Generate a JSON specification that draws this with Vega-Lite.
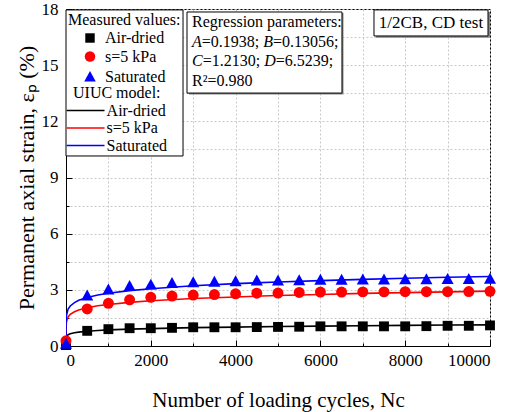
{
  "$schema": "https://vega.github.io/schema/vega-lite/v6.json",
  "autosize": {"type": "none"},
  "padding": {"left": 66, "top": 9, "right": 22, "bottom": 66},
  "width": 424,
  "height": 337,
  "background": "white",
  "datasets": {
    "measured": [
      {"N": 0, "series": "Air-dried", "e": 0.05},
      {"N": 500, "series": "Air-dried", "e": 0.81},
      {"N": 1000, "series": "Air-dried", "e": 0.9},
      {"N": 1500, "series": "Air-dried", "e": 0.95},
      {"N": 2000, "series": "Air-dried", "e": 0.95},
      {"N": 2500, "series": "Air-dried", "e": 0.97},
      {"N": 3000, "series": "Air-dried", "e": 1.0},
      {"N": 3500, "series": "Air-dried", "e": 1.0},
      {"N": 4000, "series": "Air-dried", "e": 1.0},
      {"N": 4500, "series": "Air-dried", "e": 1.01},
      {"N": 5000, "series": "Air-dried", "e": 1.02},
      {"N": 5500, "series": "Air-dried", "e": 1.03},
      {"N": 6000, "series": "Air-dried", "e": 1.05},
      {"N": 6500, "series": "Air-dried", "e": 1.05},
      {"N": 7000, "series": "Air-dried", "e": 1.05},
      {"N": 7500, "series": "Air-dried", "e": 1.05},
      {"N": 8000, "series": "Air-dried", "e": 1.05},
      {"N": 8500, "series": "Air-dried", "e": 1.06},
      {"N": 9000, "series": "Air-dried", "e": 1.08},
      {"N": 9500, "series": "Air-dried", "e": 1.08},
      {"N": 10000, "series": "Air-dried", "e": 1.1},
      {"N": 0, "series": "s=5 kPa", "e": 0.28},
      {"N": 500, "series": "s=5 kPa", "e": 1.98},
      {"N": 1000, "series": "s=5 kPa", "e": 2.28},
      {"N": 1500, "series": "s=5 kPa", "e": 2.47},
      {"N": 2000, "series": "s=5 kPa", "e": 2.6},
      {"N": 2500, "series": "s=5 kPa", "e": 2.67},
      {"N": 3000, "series": "s=5 kPa", "e": 2.72},
      {"N": 3500, "series": "s=5 kPa", "e": 2.75},
      {"N": 4000, "series": "s=5 kPa", "e": 2.79},
      {"N": 4500, "series": "s=5 kPa", "e": 2.82},
      {"N": 5000, "series": "s=5 kPa", "e": 2.83},
      {"N": 5500, "series": "s=5 kPa", "e": 2.86},
      {"N": 6000, "series": "s=5 kPa", "e": 2.88},
      {"N": 6500, "series": "s=5 kPa", "e": 2.88},
      {"N": 7000, "series": "s=5 kPa", "e": 2.89},
      {"N": 7500, "series": "s=5 kPa", "e": 2.89},
      {"N": 8000, "series": "s=5 kPa", "e": 2.9},
      {"N": 8500, "series": "s=5 kPa", "e": 2.9},
      {"N": 9000, "series": "s=5 kPa", "e": 2.9},
      {"N": 9500, "series": "s=5 kPa", "e": 2.91},
      {"N": 10000, "series": "s=5 kPa", "e": 2.92},
      {"N": 0, "series": "Saturated", "e": 0.1},
      {"N": 500, "series": "Saturated", "e": 2.68},
      {"N": 1000, "series": "Saturated", "e": 3.0},
      {"N": 1500, "series": "Saturated", "e": 3.19},
      {"N": 2000, "series": "Saturated", "e": 3.26},
      {"N": 2500, "series": "Saturated", "e": 3.35},
      {"N": 3000, "series": "Saturated", "e": 3.39},
      {"N": 3500, "series": "Saturated", "e": 3.42},
      {"N": 4000, "series": "Saturated", "e": 3.44},
      {"N": 4500, "series": "Saturated", "e": 3.48},
      {"N": 5000, "series": "Saturated", "e": 3.48},
      {"N": 5500, "series": "Saturated", "e": 3.5},
      {"N": 6000, "series": "Saturated", "e": 3.52},
      {"N": 6500, "series": "Saturated", "e": 3.52},
      {"N": 7000, "series": "Saturated", "e": 3.53},
      {"N": 7500, "series": "Saturated", "e": 3.54},
      {"N": 8000, "series": "Saturated", "e": 3.55},
      {"N": 8500, "series": "Saturated", "e": 3.55},
      {"N": 9000, "series": "Saturated", "e": 3.56},
      {"N": 9500, "series": "Saturated", "e": 3.56},
      {"N": 10000, "series": "Saturated", "e": 3.58}
    ],
    "model": [
      {"N": 0, "model": "Air-dried", "e": 0},
      {"N": 1, "model": "Air-dried", "e": 0.37},
      {"N": 10, "model": "Air-dried", "e": 0.49},
      {"N": 50, "model": "Air-dried", "e": 0.6},
      {"N": 100, "model": "Air-dried", "e": 0.65},
      {"N": 200, "model": "Air-dried", "e": 0.71},
      {"N": 300, "model": "Air-dried", "e": 0.74},
      {"N": 500, "model": "Air-dried", "e": 0.79},
      {"N": 750, "model": "Air-dried", "e": 0.83},
      {"N": 1000, "model": "Air-dried", "e": 0.86},
      {"N": 1500, "model": "Air-dried", "e": 0.9},
      {"N": 2000, "model": "Air-dried", "e": 0.93},
      {"N": 3000, "model": "Air-dried", "e": 0.98},
      {"N": 4000, "model": "Air-dried", "e": 1.01},
      {"N": 5000, "model": "Air-dried", "e": 1.04},
      {"N": 6000, "model": "Air-dried", "e": 1.06},
      {"N": 7000, "model": "Air-dried", "e": 1.08},
      {"N": 8000, "model": "Air-dried", "e": 1.1},
      {"N": 9000, "model": "Air-dried", "e": 1.12},
      {"N": 10000, "model": "Air-dried", "e": 1.13},
      {"N": 0, "model": "s=5 kPa", "e": 0},
      {"N": 1, "model": "s=5 kPa", "e": 0.97},
      {"N": 10, "model": "s=5 kPa", "e": 1.28},
      {"N": 50, "model": "s=5 kPa", "e": 1.55},
      {"N": 100, "model": "s=5 kPa", "e": 1.69},
      {"N": 200, "model": "s=5 kPa", "e": 1.83},
      {"N": 300, "model": "s=5 kPa", "e": 1.92},
      {"N": 500, "model": "s=5 kPa", "e": 2.04},
      {"N": 750, "model": "s=5 kPa", "e": 2.15},
      {"N": 1000, "model": "s=5 kPa", "e": 2.22},
      {"N": 1500, "model": "s=5 kPa", "e": 2.33},
      {"N": 2000, "model": "s=5 kPa", "e": 2.42},
      {"N": 3000, "model": "s=5 kPa", "e": 2.54},
      {"N": 4000, "model": "s=5 kPa", "e": 2.62},
      {"N": 5000, "model": "s=5 kPa", "e": 2.7},
      {"N": 6000, "model": "s=5 kPa", "e": 2.75},
      {"N": 7000, "model": "s=5 kPa", "e": 2.81},
      {"N": 8000, "model": "s=5 kPa", "e": 2.85},
      {"N": 9000, "model": "s=5 kPa", "e": 2.89},
      {"N": 10000, "model": "s=5 kPa", "e": 2.93},
      {"N": 0, "model": "Saturated", "e": 0},
      {"N": 1, "model": "Saturated", "e": 1.23},
      {"N": 10, "model": "Saturated", "e": 1.62},
      {"N": 50, "model": "Saturated", "e": 1.97},
      {"N": 100, "model": "Saturated", "e": 2.14},
      {"N": 200, "model": "Saturated", "e": 2.32},
      {"N": 300, "model": "Saturated", "e": 2.44},
      {"N": 500, "model": "Saturated", "e": 2.59},
      {"N": 750, "model": "Saturated", "e": 2.72},
      {"N": 1000, "model": "Saturated", "e": 2.82},
      {"N": 1500, "model": "Saturated", "e": 2.96},
      {"N": 2000, "model": "Saturated", "e": 3.06},
      {"N": 3000, "model": "Saturated", "e": 3.22},
      {"N": 4000, "model": "Saturated", "e": 3.33},
      {"N": 5000, "model": "Saturated", "e": 3.42},
      {"N": 6000, "model": "Saturated", "e": 3.49},
      {"N": 7000, "model": "Saturated", "e": 3.56},
      {"N": 8000, "model": "Saturated", "e": 3.62},
      {"N": 9000, "model": "Saturated", "e": 3.67},
      {"N": 10000, "model": "Saturated", "e": 3.71}
    ],
    "one": [{}]
  },
  "encoding": {
    "x": {
      "type": "quantitative",
      "scale": {"domain": [0, 10000], "nice": false, "zero": false},
      "axis": {
        "title": "Number of loading cycles, Nc",
        "values": [0, 1000, 2000, 3000, 4000, 5000, 6000, 7000, 8000, 9000, 10000],
        "format": "d",
        "labelExpr": "datum.value % 2000 === 0 ? datum.label : ''",
        "tickSize": {"condition": {"test": "datum.value % 2000 === 0", "value": -6}, "value": -3},
        "labelPadding": 12,
        "titlePadding": 21
      }
    },
    "y": {
      "type": "quantitative",
      "scale": {"domain": [0, 18], "nice": false, "zero": false},
      "axis": {
        "title": "Permanent axial strain, εₚ (%)",
        "values": [0, 1.5, 3, 4.5, 6, 7.5, 9, 10.5, 12, 13.5, 15, 16.5, 18],
        "labelExpr": "datum.value % 3 === 0 ? datum.label : ''",
        "tickSize": {"condition": {"test": "datum.value % 3 === 0", "value": -6}, "value": -3},
        "labelPadding": 14,
        "titlePadding": 3,
        "titleFontSize": 22
      }
    }
  },
  "layer": [
    {
      "data": {"name": "model"},
      "mark": {"type": "line", "strokeWidth": 1.6, "clip": true},
      "encoding": {
        "x": {"field": "N", "type": "quantitative"},
        "y": {"field": "e", "type": "quantitative"},
        "stroke": {
          "field": "model",
          "type": "nominal",
          "sort": ["Air-dried", "s=5 kPa", "Saturated"],
          "scale": {"range": ["#000000", "#ff0000", "#0000ff"]},
          "legend": {
            "title": "UIUC model:",
            "orient": "none",
            "legendX": 0,
            "legendY": 68.5,
            "symbolType": "M-3.5,0H3.5",
            "symbolSize": 117,
            "symbolStrokeWidth": 1.6,
            "symbolOffset": 4.6,
            "labelOffset": 13,
            "padding": 7
          }
        }
      }
    },
    {
      "data": {"name": "measured"},
      "mark": {"type": "point", "filled": true, "size": 120, "opacity": 1, "strokeWidth": 0},
      "encoding": {
        "x": {"field": "N", "type": "quantitative"},
        "y": {"field": "e", "type": "quantitative"},
        "fill": {
          "field": "series",
          "type": "nominal",
          "scale": {"domain": ["Air-dried", "s=5 kPa", "Saturated"], "range": ["#000000", "#ff0000", "#0000ff"]},
          "legend": {
            "title": "Measured values:",
            "orient": "none",
            "legendX": 0,
            "legendY": 1,
            "symbolSize": 110,
            "symbolOffset": 14,
            "labelOffset": 7,
            "padding": 2
          }
        },
        "shape": {
          "field": "series",
          "type": "nominal",
          "scale": {"domain": ["Air-dried", "s=5 kPa", "Saturated"], "range": ["M-0.9,-0.9H0.9V0.9H-0.9Z", "circle", "M0,-1.15L1.1,0.85L-1.1,0.85Z"]},
          "legend": {
            "title": "Measured values:",
            "orient": "none",
            "legendX": 0,
            "legendY": 1
          }
        }
      }
    },
    {
      "data": {"name": "one"},
      "mark": {"type": "rect", "fill": "white", "stroke": "black", "strokeWidth": 1},
      "encoding": {
        "x": {"datum": 0},
        "x2": {"datum": 2760},
        "y": {"datum": 17.95},
        "y2": {"datum": 10.15}
      }
    },
    {
      "data": {"name": "one"},
      "mark": {"type": "rect", "fill": "#888888"},
      "encoding": {
        "x": {"datum": 2900},
        "x2": {"datum": 6545},
        "y": {"datum": 17.78},
        "y2": {"datum": 13.43}
      }
    },
    {
      "data": {"name": "one"},
      "mark": {"type": "rect", "fill": "white", "stroke": "black", "strokeWidth": 1},
      "encoding": {
        "x": {"datum": 2854},
        "x2": {"datum": 6509},
        "y": {"datum": 17.84},
        "y2": {"datum": 13.51}
      }
    },
    {
      "data": {"name": "one"},
      "mark": {"type": "text", "text": "Regression parameters:", "font": "Liberation Serif", "fontSize": 16, "align": "left", "baseline": "top", "color": "black"},
      "encoding": {"x": {"datum": 2972}, "y": {"datum": 17.733}}
    },
    {
      "data": {"name": "one"},
      "mark": {"type": "text", "text": "A", "font": "Liberation Serif", "fontStyle": "italic", "fontSize": 16, "align": "left", "baseline": "top", "color": "black"},
      "encoding": {"x": {"datum": 2972}, "y": {"datum": 16.691}}
    },
    {
      "data": {"name": "one"},
      "mark": {"type": "text", "text": "=0.1938;", "font": "Liberation Serif", "fontSize": 16, "align": "left", "baseline": "top", "color": "black"},
      "encoding": {"x": {"datum": 3203}, "y": {"datum": 16.691}}
    },
    {
      "data": {"name": "one"},
      "mark": {"type": "text", "text": "B", "font": "Liberation Serif", "fontStyle": "italic", "fontSize": 16, "align": "left", "baseline": "top", "color": "black"},
      "encoding": {"x": {"datum": 4653}, "y": {"datum": 16.691}}
    },
    {
      "data": {"name": "one"},
      "mark": {"type": "text", "text": "=0.13056;", "font": "Liberation Serif", "fontSize": 16, "align": "left", "baseline": "top", "color": "black"},
      "encoding": {"x": {"datum": 4884}, "y": {"datum": 16.691}}
    },
    {
      "data": {"name": "one"},
      "mark": {"type": "text", "text": "C", "font": "Liberation Serif", "fontStyle": "italic", "fontSize": 16, "align": "left", "baseline": "top", "color": "black"},
      "encoding": {"x": {"datum": 2972}, "y": {"datum": 15.65}}
    },
    {
      "data": {"name": "one"},
      "mark": {"type": "text", "text": "=1.2130;", "font": "Liberation Serif", "fontSize": 16, "align": "left", "baseline": "top", "color": "black"},
      "encoding": {"x": {"datum": 3224}, "y": {"datum": 15.65}}
    },
    {
      "data": {"name": "one"},
      "mark": {"type": "text", "text": "D", "font": "Liberation Serif", "fontStyle": "italic", "fontSize": 16, "align": "left", "baseline": "top", "color": "black"},
      "encoding": {"x": {"datum": 4675}, "y": {"datum": 15.65}}
    },
    {
      "data": {"name": "one"},
      "mark": {"type": "text", "text": "=6.5239;", "font": "Liberation Serif", "fontSize": 16, "align": "left", "baseline": "top", "color": "black"},
      "encoding": {"x": {"datum": 4946}, "y": {"datum": 15.65}}
    },
    {
      "data": {"name": "one"},
      "mark": {"type": "text", "text": "R²=0.980", "font": "Liberation Serif", "fontSize": 16, "align": "left", "baseline": "top", "color": "black"},
      "encoding": {"x": {"datum": 2972}, "y": {"datum": 14.608}}
    },
    {
      "data": {"name": "one"},
      "mark": {"type": "rect", "fill": "#888888"},
      "encoding": {
        "x": {"datum": 7310},
        "x2": {"datum": 10000},
        "y": {"datum": 17.85},
        "y2": {"datum": 16.47}
      }
    },
    {
      "data": {"name": "one"},
      "mark": {"type": "rect", "fill": "white", "stroke": "black", "strokeWidth": 1},
      "encoding": {
        "x": {"datum": 7264},
        "x2": {"datum": 9953},
        "y": {"datum": 17.95},
        "y2": {"datum": 16.56}
      }
    },
    {
      "data": {"name": "one"},
      "mark": {"type": "text", "text": "1/2CB, CD test", "font": "Liberation Serif", "fontSize": 17, "align": "center", "baseline": "middle", "color": "black"},
      "encoding": {"x": {"datum": 8608}, "y": {"datum": 17.25}}
    }
  ],
  "config": {
    "view": {"stroke": "black", "strokeWidth": 1},
    "axis": {
      "labelFont": "Liberation Serif",
      "labelFontSize": 17,
      "labelColor": "black",
      "titleFont": "Liberation Serif",
      "titleFontSize": 21,
      "titleFontWeight": "normal",
      "titleColor": "black",
      "domainColor": "black",
      "tickColor": "black",
      "gridColor": "#c8c8c8",
      "gridDash": [2, 2],
      "grid": true
    },
    "legend": {
      "titleFont": "Liberation Serif",
      "titleFontSize": 16,
      "titleFontWeight": "normal",
      "titleColor": "black",
      "titleLimit": 300,
      "labelFont": "Liberation Serif",
      "labelFontSize": 16,
      "labelColor": "black",
      "labelLimit": 300,
      "rowPadding": 1.5,
      "titlePadding": 2
    }
  }
}
